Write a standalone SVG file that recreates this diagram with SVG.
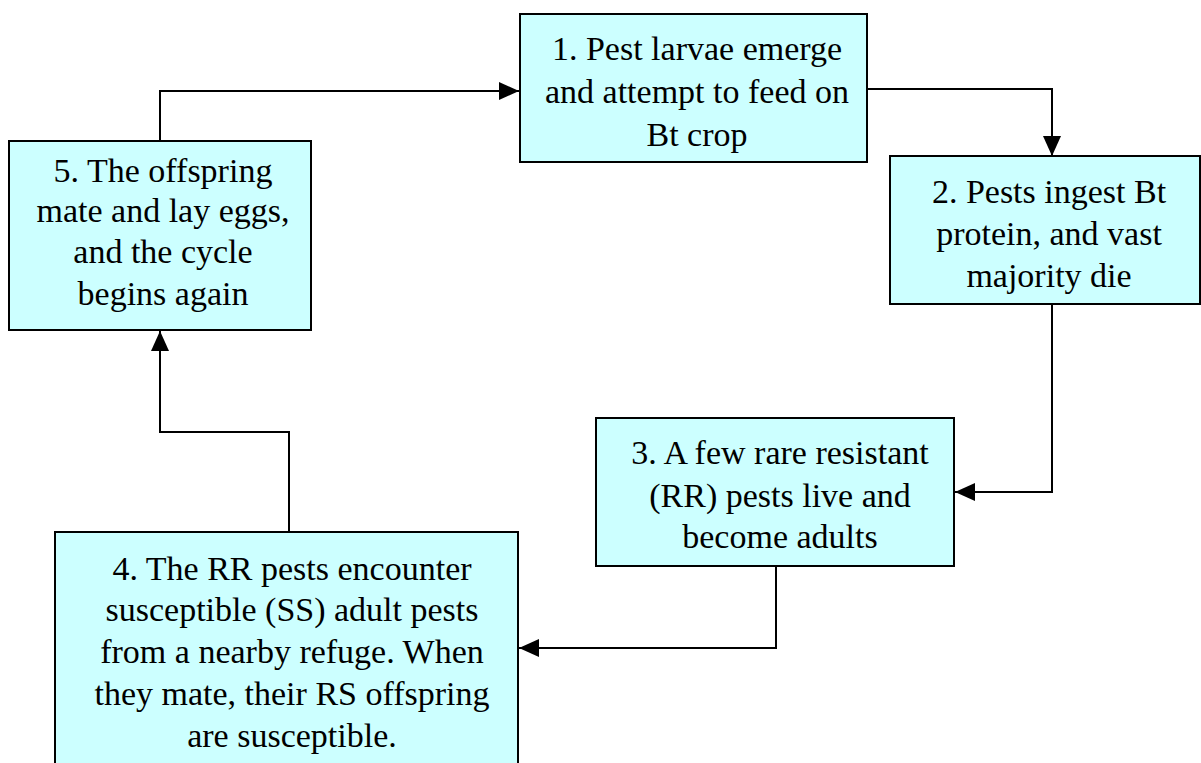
<svg xmlns="http://www.w3.org/2000/svg" width="1201" height="763" viewBox="0 0 1201 763">
<style>
.box{fill:#CCFFFF;stroke:#000;stroke-width:2}
.t{font-family:"Liberation Serif",serif;font-size:34px;fill:#000;text-anchor:middle}
.c{fill:none;stroke:#000;stroke-width:2}
</style>
<defs>
<marker id="ah" markerWidth="20" markerHeight="18" refX="20" refY="9" orient="auto" markerUnits="userSpaceOnUse">
<path d="M0,0 L20,9 L0,18 Z" fill="#000"/>
</marker>
</defs>
<rect width="1201" height="763" fill="#fff"/>
<g id="connectors">
<path class="c" d="M867,89 H1052 V156" marker-end="url(#ah)"/>
<path class="c" d="M1052,304 V492 H955" marker-end="url(#ah)"/>
<path class="c" d="M776,566 V648 H519" marker-end="url(#ah)"/>
<path class="c" d="M289,532 V432 H160 V331" marker-end="url(#ah)"/>
<path class="c" d="M160,141 V91 H519" marker-end="url(#ah)"/>
</g>
<g id="node1">
<rect class="box" x="520" y="14" width="347" height="148"/>
<text class="t" x="697" y="60">1. Pest larvae emerge</text>
<text class="t" x="697" y="103">and attempt to feed on</text>
<text class="t" x="697" y="146">Bt crop</text>
</g>
<g id="node2">
<rect class="box" x="890" y="156" width="310" height="148"/>
<text class="t" x="1049" y="203">2. Pests ingest Bt</text>
<text class="t" x="1049" y="245">protein, and vast</text>
<text class="t" x="1049" y="287">majority die</text>
</g>
<g id="node3">
<rect class="box" x="596" y="418" width="358" height="148"/>
<text class="t" x="780" y="464">3. A few rare resistant</text>
<text class="t" x="780" y="507">(RR) pests live and</text>
<text class="t" x="780" y="548">become adults</text>
</g>
<g id="node4">
<rect class="box" x="55" y="532" width="463" height="240"/>
<text class="t" x="292" y="580">4. The RR pests encounter</text>
<text class="t" x="292" y="621">susceptible (SS) adult pests</text>
<text class="t" x="292" y="663">from a nearby refuge. When</text>
<text class="t" x="292" y="705">they mate, their RS offspring</text>
<text class="t" x="292" y="747">are susceptible.</text>
</g>
<g id="node5">
<rect class="box" x="9" y="141" width="302" height="189"/>
<text class="t" x="163" y="182">5. The offspring</text>
<text class="t" x="163" y="222">mate and lay eggs,</text>
<text class="t" x="163" y="263">and the cycle</text>
<text class="t" x="163" y="305">begins again</text>
</g>
</svg>
